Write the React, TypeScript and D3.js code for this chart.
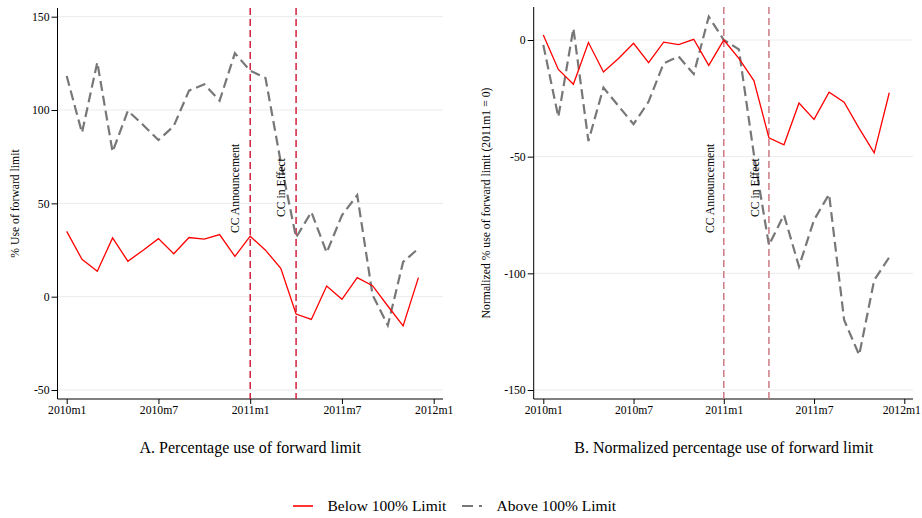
import * as d3 from 'd3';
import React, { useEffect, useRef } from 'react';

// months since 2010m1
const months = d3.range(0, 24);
const tickMonths = [0, 6, 12, 18, 24];
const tickLabels = ['2010m1', '2010m7', '2011m1', '2011m7', '2012m1'];

// Panel A: % use of forward limit
const belowA = [35, 20, 13.6, 31.5, 19, 24.9, 31.1, 23, 31.7, 30.8, 33.3, 21.6, 32.4, 24.9, 15.2, -9.3, -12.2, 5.7, -1.4, 10.2, 5.9, -5, -15.7, 10.2];
const aboveA = [118.2, 87.8, 125.6, 77.6, 99.6, 92, 83.9, 91.4, 110.4, 113.8, 105, 130.4, 121.1, 117.2, 72, 31.7, 45.4, 23.6, 43.6, 54.4, 1, -15.4, 18.6, 25.8];
const yTicksA = [-50, 0, 50, 100, 150];

// Panel B: normalized (2011m1 = 0)
const belowB = [2.1, -12.6, -19, -1.1, -13.7, -7.9, -1.4, -9.7, -0.9, -2, 0.3, -10.9, 0, -7.9, -17.4, -41.9, -44.9, -27, -34, -22.4, -26.7, -37.9, -48.4, -22.6];
const aboveB = [-2.1, -33, 5, -43.3, -20.4, -28.3, -36.1, -26.4, -10, -7.1, -14.6, 10, 0, -4, -49, -87.9, -75, -97.1, -77.1, -66.1, -120, -135, -102.9, -93.1];
const yTicksB = [-150, -100, -50, 0];

const announceMonth = 12;
const effectMonth = 15;

const FONT = '"Liberation Serif", "Times New Roman", serif';

interface PanelSpec {
  axisLeft: number;
  axisRight: number;
  top: number;
  xRange: [number, number];
  yDomain: [number, number];
  yRange: [number, number];
  yTicks: number[];
  below: number[];
  above: number[];
  yTitle: string;
  yTitleX: number;
  subtitle: string;
  vlineColor: string;
  annoOffset: number;
  lastTickShift: number;
}

const App: React.FC = () => {
  const ref = useRef<SVGSVGElement | null>(null);

  useEffect(() => {
    if (!ref.current) return;
    const svg = d3.select(ref.current);
    svg.selectAll('*').remove();

    const bottom = 399;

    const drawPanel = (p: PanelSpec) => {
      const x = d3.scaleLinear().domain([0, 24]).range(p.xRange);
      const y = d3.scaleLinear().domain(p.yDomain).range(p.yRange);
      const g = svg.append('g');

      // grid
      g.selectAll('line.grid')
        .data(p.yTicks)
        .enter()
        .append('line')
        .attr('x1', p.axisLeft)
        .attr('x2', p.axisRight)
        .attr('y1', (d) => y(d))
        .attr('y2', (d) => y(d))
        .attr('stroke', '#ebebeb')
        .attr('stroke-width', 1);

      // y axis
      const yAxis = d3
        .axisLeft(y)
        .tickValues(p.yTicks)
        .tickSize(6)
        .tickPadding(2)
        .tickFormat((d) => String(d));
      const ya = g.append('g').attr('transform', `translate(${p.axisLeft},0)`).call(yAxis);
      ya.select('.domain').remove();
      ya.selectAll('text').attr('font-family', FONT).attr('font-size', 11.7).attr('fill', '#000');
      g.append('line')
        .attr('x1', p.axisLeft)
        .attr('x2', p.axisLeft)
        .attr('y1', p.top)
        .attr('y2', bottom)
        .attr('stroke', '#000')
        .attr('stroke-width', 1);

      // x axis
      const xAxis = d3
        .axisBottom(x)
        .tickValues(tickMonths)
        .tickSize(5)
        .tickPadding(2)
        .tickFormat((_, i) => tickLabels[i]);
      const xa = g.append('g').attr('transform', `translate(0,${bottom})`).call(xAxis);
      xa.select('.domain').remove();
      xa.selectAll('text')
        .attr('font-family', FONT)
        .attr('font-size', 11.7)
        .attr('fill', '#000')
        .attr('dx', (_, i) => (i === tickMonths.length - 1 ? p.lastTickShift : 0));
      g.append('line')
        .attr('x1', p.axisLeft)
        .attr('x2', p.axisRight)
        .attr('y1', bottom)
        .attr('y2', bottom)
        .attr('stroke', '#000')
        .attr('stroke-width', 1);

      // event lines
      [announceMonth, effectMonth].forEach((m) => {
        g.append('line')
          .attr('x1', x(m))
          .attr('x2', x(m))
          .attr('y1', p.top)
          .attr('y2', bottom)
          .attr('stroke', p.vlineColor)
          .attr('stroke-width', 1.4)
          .attr('stroke-dasharray', '7,4');
      });

      const line = d3
        .line<number>()
        .x((_, i) => x(months[i]))
        .y((d) => y(d));

      g.append('path')
        .datum(p.above)
        .attr('fill', 'none')
        .attr('stroke', '#777')
        .attr('stroke-width', 2.2)
        .attr('stroke-dasharray', '10,5')
        .attr('d', line);

      g.append('path')
        .datum(p.below)
        .attr('fill', 'none')
        .attr('stroke', '#ff0000')
        .attr('stroke-width', 1.3)
        .attr('d', line);

      // annotations
      const anno = [
        { m: announceMonth, label: 'CC Announcement', y0: 233 },
        { m: effectMonth, label: 'CC in Effect', y0: 217 },
      ];
      anno.forEach((a) => {
        const ax = x(a.m) - p.annoOffset;
        g.append('text')
          .attr('transform', `translate(${ax},${a.y0}) rotate(-90)`)
          .attr('font-family', FONT)
          .attr('font-size', 11.7)
          .attr('fill', '#000')
          .text(a.label);
      });

      // y title
      g.append('text')
        .attr('transform', `translate(${p.yTitleX},${(p.top + bottom) / 2}) rotate(-90)`)
        .attr('text-anchor', 'middle')
        .attr('font-family', FONT)
        .attr('font-size', 11.7)
        .attr('fill', '#000')
        .text(p.yTitle);

      // subtitle
      g.append('text')
        .attr('x', (p.xRange[0] + p.xRange[1]) / 2)
        .attr('y', 453)
        .attr('text-anchor', 'middle')
        .attr('font-family', FONT)
        .attr('font-size', 16)
        .attr('fill', '#000')
        .text(p.subtitle);
    };

    drawPanel({
      axisLeft: 57.5,
      axisRight: 443,
      top: 8,
      xRange: [66.7, 433.7],
      yDomain: [-50, 150],
      yRange: [390, 16.7],
      yTicks: yTicksA,
      below: belowA,
      above: aboveA,
      yTitle: '% Use of forward limit',
      yTitleX: 19,
      subtitle: 'A. Percentage use of forward limit',
      vlineColor: '#cc1030',
      annoOffset: 11,
      lastTickShift: 0,
    });

    drawPanel({
      axisLeft: 533.7,
      axisRight: 913,
      top: 7,
      xRange: [543.3, 904.3],
      yDomain: [-150, 0],
      yRange: [390, 40],
      yTicks: yTicksB,
      below: belowB,
      above: aboveB,
      yTitle: 'Normalized % use of forward limit (2011m1 = 0)',
      yTitleX: 490,
      subtitle: 'B. Normalized percentage use of forward limit',
      vlineColor: '#c9707c',
      annoOffset: 10,
      lastTickShift: -3,
    });

    // legend
    const lg = svg.append('g');
    lg.append('line')
      .attr('x1', 293)
      .attr('x2', 313)
      .attr('y1', 506)
      .attr('y2', 506)
      .attr('stroke', '#ff0000')
      .attr('stroke-width', 1.6);
    lg.append('text')
      .attr('x', 327.5)
      .attr('y', 511)
      .attr('font-family', FONT)
      .attr('font-size', 15.5)
      .attr('fill', '#000')
      .text('Below 100% Limit');
    lg.append('line')
      .attr('x1', 462)
      .attr('x2', 482)
      .attr('y1', 506)
      .attr('y2', 506)
      .attr('stroke', '#777')
      .attr('stroke-width', 2.2)
      .attr('stroke-dasharray', '11,6');
    lg.append('text')
      .attr('x', 496.5)
      .attr('y', 511)
      .attr('font-family', FONT)
      .attr('font-size', 15.5)
      .attr('fill', '#000')
      .text('Above 100% Limit');
  }, []);

  return (
    <svg
      ref={ref}
      width={922}
      height={518}
      style={{ position: 'absolute', left: 0, top: 0, background: '#fff' }}
    />
  );
};

export default App;
